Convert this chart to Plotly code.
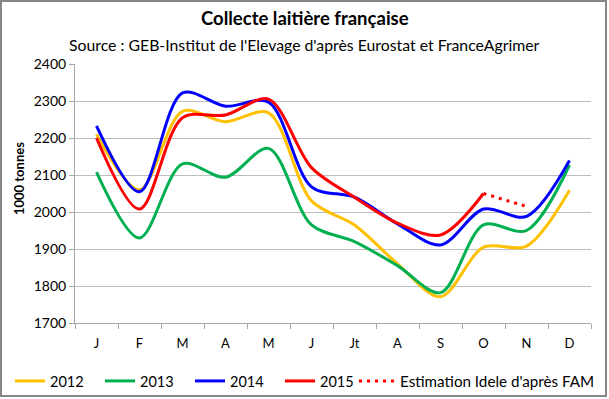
import plotly.graph_objects as go

months = ["J", "F", "M", "A", "M", "J", "Jt", "A", "S", "O", "N", "D"]
y2012 = [2210, 2060, 2272, 2244, 2268, 2030, 1965, 1860, 1771, 1905, 1908, 2059]
y2013 = [2108, 1930, 2130, 2094, 2172, 1965, 1920, 1855, 1782, 1965, 1950, 2127]
y2014 = [2233, 2055, 2322, 2286, 2297, 2068, 2040, 1968, 1911, 2008, 1988, 2139]
y2015 = [2200, 2008, 2255, 2262, 2305, 2120, 2040, 1970, 1938, 2050]
est_months_idx = [9, 10]
est_vals = [2050, 2015]
est_name = "Estimation Idele d'après FAM"

FONT = "Lato, Liberation Sans, sans-serif"
L, R, T, B = 75, 18, 64, 76
W, H = 609, 399
PW, PH = W - L - R, H - T - B

def px(x):
    return (x - L) / PW

def py(y):
    return (H - B - y) / PH

xs = list(range(12))
fig = go.Figure()
series = [("2012", y2012, "#FFC000"), ("2013", y2013, "#00B050"),
          ("2014", y2014, "#0000FF"), ("2015", y2015, "#FF0000")]
for name, vals, col in series:
    fig.add_trace(go.Scatter(x=xs[:len(vals)], y=vals, name=name, mode="lines",
                             line=dict(color=col, width=3, shape="spline", smoothing=0.9)))
fig.add_trace(go.Scatter(x=est_months_idx, y=est_vals, name=est_name, showlegend=False,
                         mode="lines", line=dict(color="#FF0000", width=3, dash="3px,5px")))

fig.update_layout(
    width=W, height=H,
    margin=dict(l=L, r=R, t=T, b=B, autoexpand=False),
    paper_bgcolor="white", plot_bgcolor="white",
    font=dict(family=FONT, size=13, color="black"),
    showlegend=True,
    legend=dict(orientation="h", xref="container", x=10 / W, xanchor="left",
                yref="container", y=(H - 381) / H, yanchor="middle",
                entrywidth=45, entrywidthmode="pixels",
                font=dict(size=14.5), tracegroupgap=0, bgcolor="rgba(0,0,0,0)"),
    xaxis=dict(range=[-0.5, 11.5], tickvals=xs, ticktext=months, ticks="", showgrid=False,
               showline=True, linecolor="#A6A6A6", linewidth=1, zeroline=False,
               tickfont=dict(size=13), ticklabelstandoff=8,
               minor=dict(tickvals=[i - 0.5 for i in range(13)], ticks="outside", ticklen=5,
                          tickcolor="#A6A6A6", showgrid=False)),
    yaxis=dict(range=[1700, 2400], dtick=100, tick0=1700, showgrid=True, gridcolor="#BEBEBE",
               gridwidth=1, showline=True, linecolor="#A6A6A6", ticks="outside", ticklen=5,
               tickcolor="#A6A6A6", zeroline=False, tickfont=dict(size=14)),
    annotations=[
        dict(text="<b>Collecte laitière française</b>", xref="paper", yref="paper",
             x=px(304.5), y=py(18), xanchor="center", yanchor="middle", showarrow=False,
             font=dict(size=18.5, family=FONT)),
        dict(text="Source : GEB-Institut de l'Elevage d'après Eurostat et FranceAgrimer",
             xref="paper", yref="paper", x=px(304.5), y=py(45), xanchor="center",
             yanchor="middle", showarrow=False, font=dict(size=15.8, family=FONT)),
        dict(text="<b>1000 tonnes</b>", xref="paper", yref="paper", x=px(19), y=py(179),
             xanchor="center", yanchor="middle", textangle=-90, showarrow=False,
             font=dict(size=13, family=FONT)),
        dict(text=est_name, xref="paper", yref="paper", x=px(398), y=py(381),
             xanchor="left", yanchor="middle", showarrow=False,
             font=dict(size=15.2, family=FONT)),
    ],
    shapes=[dict(type="rect", xref="paper", yref="paper", x0=px(1), x1=px(606),
                 y0=py(396), y1=py(1), line=dict(color="#868686", width=2), layer="below"),
            dict(type="line", xref="paper", yref="paper", x0=px(359), x1=px(394),
                 y0=py(381), y1=py(381), line=dict(color="#FF0000", width=3, dash="3px,5px"))],
)

fig.write_html("out.html", config={"displayModeBar": False},
               post_script="document.body.style.margin='0px';document.body.style.overflow='hidden';")
